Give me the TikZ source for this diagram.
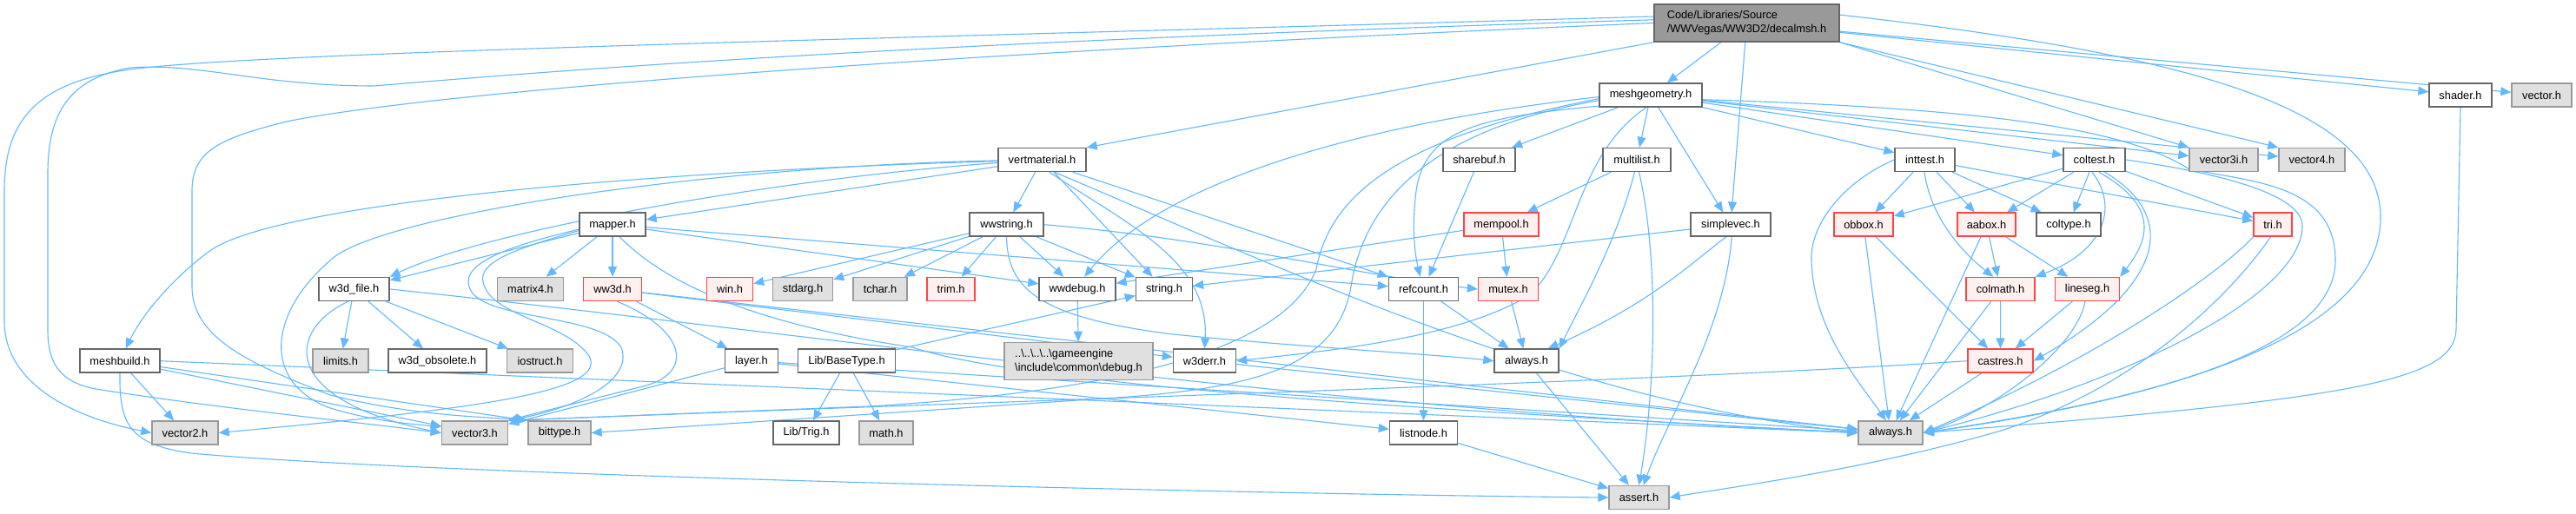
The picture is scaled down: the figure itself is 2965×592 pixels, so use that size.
\documentclass[tikz,border=0pt]{standalone}
\usepackage{fontspec}
\setmainfont{Liberation Sans}
\usetikzlibrary{arrows.meta}
\definecolor{edgec}{HTML}{63B8FF}
\definecolor{nborder}{HTML}{666666}
\definecolor{gfill}{HTML}{E0E0E0}
\definecolor{gborder}{HTML}{999999}
\definecolor{rfill}{HTML}{FFF0F0}
\definecolor{rborder}{HTML}{FF4444}
\definecolor{rootfill}{HTML}{999999}
\pgfdeclarelayer{edgelayer}
\pgfsetlayers{edgelayer,main}
\begin{document}
\begin{tikzpicture}[x=0.5pt,y=-0.5pt,
  base/.style={draw, line width=0.7pt, inner sep=0pt, minimum height=13.5pt, anchor=center, font=\fontsize{6.4pt}{8pt}\selectfont},
  wn/.style={base, draw=nborder, fill=white},
  gn/.style={base, draw=gborder, fill=gfill},
  rn/.style={base, draw=rborder, fill=rfill},
  rootn/.style={base, draw=nborder, fill=rootfill},
  e/.style={draw=edgec, line width=0.55pt, -{Triangle[length=6pt,width=5pt]}},
]
\useasboundingbox (0,0) rectangle (2965,592);

% ---------------- nodes ----------------
\node[rootn, minimum width=106.5pt, minimum height=21.5pt, align=left] (R) at (2010.5,26.5) {Code/Libraries/Source\\/WWVegas/WW3D2/decalmsh.h};
\node[wn, minimum width=59pt]   (MG)  at (1900,109.5) {meshgeometry.h};
\node[wn, minimum width=36pt]   (SH)  at (2832,109.5) {shader.h};
\node[gn, minimum width=34.5pt] (VEC) at (2925.5,109.5) {vector.h};
\node[wn, minimum width=50.5pt] (VM)  at (1199.5,184) {vertmaterial.h};
\node[wn, minimum width=41.5pt] (SB)  at (1702.5,184) {sharebuf.h};
\node[wn, minimum width=39pt]   (ML)  at (1884,184) {multilist.h};
\node[wn, minimum width=34.5pt] (IT)  at (2215.5,184) {inttest.h};
\node[wn, minimum width=35.5pt] (CT)  at (2410.5,184) {coltest.h};
\node[gn, minimum width=39.5pt] (V3I) at (2559.5,184) {vector3i.h};
\node[gn, minimum width=38pt]   (V4)  at (2661,184) {vector4.h};
\node[wn, minimum width=38pt]   (MP)  at (705,258.7) {mapper.h};
\node[wn, minimum width=42.5pt] (WS)  at (1158.5,258.7) {wwstring.h};
\node[rn, minimum width=43pt]   (MEM) at (1728,258.7) {mempool.h};
\node[wn, minimum width=46pt]   (SV)  at (1992,258.7) {simplevec.h};
\node[rn, minimum width=34pt]   (OBB) at (2145,258.7) {obbox.h};
\node[rn, minimum width=33.5pt] (AAB) at (2286.5,258.7) {aabox.h};
\node[wn, minimum width=37pt]   (COLT) at (2381,258.7) {coltype.h};
\node[rn, minimum width=22pt]   (TRI) at (2616,258.7) {tri.h};
\node[wn, minimum width=40.5pt] (WF)  at (407.5,333) {w3d\_file.h};
\node[gn, minimum width=38pt]   (MAT4) at (610.5,333) {matrix4.h};
\node[rn, minimum width=33.5pt] (WW3D) at (705,333) {ww3d.h};
\node[rn, minimum width=26.5pt] (WIN) at (840,333) {win.h};
\node[gn, minimum width=34.5pt] (STD) at (924,333) {stdarg.h};
\node[gn, minimum width=31pt]   (TCH) at (1013,333) {tchar.h};
\node[rn, minimum width=27.5pt] (TRIM) at (1094.5,333) {trim.h};
\node[wn, minimum width=44pt]   (WD)  at (1240,333) {wwdebug.h};
\node[wn, minimum width=32.5pt] (ST)  at (1340,333) {string.h};
\node[wn, minimum width=40pt]   (RC)  at (1638.5,333) {refcount.h};
\node[rn, minimum width=34.5pt] (MUT) at (1736,333) {mutex.h};
\node[rn, minimum width=39.5pt] (CM)  at (2302.5,333) {colmath.h};
\node[rn, minimum width=37pt]   (LS)  at (2402.5,333) {lineseg.h};
\node[wn, minimum width=46pt]   (MB)  at (138,415.7) {meshbuild.h};
\node[gn, minimum width=32pt]   (LIM) at (392,415.7) {limits.h};
\node[wn, minimum width=56.5pt] (W3O) at (503.5,415.7) {w3d\_obsolete.h};
\node[gn, minimum width=38pt]   (IOS) at (621.5,415.7) {iostruct.h};
\node[wn, minimum width=30.5pt] (LAY) at (865,415.7) {layer.h};
\node[wn, minimum width=56pt]   (LBT) at (974.5,415.7) {Lib/BaseType.h};
\node[gn, minimum width=85.5pt, minimum height=21.5pt, align=left] (DBG) at (1241.5,415.8) {..\textbackslash..\textbackslash..\textbackslash..\textbackslash gameengine\\\textbackslash include\textbackslash common\textbackslash debug.h};
\node[wn, minimum width=36pt]   (WE)  at (1386.5,415.7) {w3derr.h};
\node[wn, minimum width=37pt]   (AW)  at (1757,415.7) {always.h};
\node[rn, minimum width=37.5pt] (CR)  at (2302.5,415.7) {castres.h};
\node[gn, minimum width=38pt]   (V2)  at (213,498.5) {vector2.h};
\node[gn, minimum width=38pt]   (V3)  at (546.5,498.5) {vector3.h};
\node[gn, minimum width=36pt]   (BT)  at (644,498.5) {bittype.h};
\node[wn, minimum width=38pt]   (TRIG) at (928,498.5) {Lib/Trig.h};
\node[gn, minimum width=31pt]   (MATH) at (1020,498.5) {math.h};
\node[wn, minimum width=39pt]   (LN)  at (1638.5,498.5) {listnode.h};
\node[gn, minimum width=37pt]   (AG)  at (2176,498.5) {always.h};
\node[gn, minimum width=34.5pt] (ASS) at (1886.5,573) {assert.h};

% ---------------- edges ----------------
\begin{pgfonlayer}{edgelayer}
\fill[white] (0,0) rectangle (2965,592);
% root
\draw[e] (R) -- (MG);
\draw[e] (R) -- (SV);
\draw[e] (R.south west) -- (VM.north east);
\draw[e] (R) -- (SH);
\draw[e] (R) -- (VEC);
\draw[e] (R.south east) -- (V3I.north west);
\draw[e] (R.south east) -- (V4.north west);
\draw[e] (R.176) .. controls (1000,45) and (300,60) .. (150,80) .. controls (40,95) and (5,140) .. (5,220) -- (5,370) .. controls (5,440) and (80,480) .. (V2.west);
\draw[e] (R.178) .. controls (1000,50) and (600,85) .. (430,99) .. controls (300,99) and (230,72) .. (150,78) .. controls (80,90) and (55,130) .. (55,200) -- (55,380) .. controls (55,420) and (70,440) .. (110,448) .. controls (250,470) and (400,485) .. (V3.west);
\draw[e] (R.180) .. controls (1100,60) and (500,105) .. (330,140) .. controls (250,160) and (221,175) .. (221,220) -- (221,330) .. controls (221,390) and (290,420) .. (380,455) .. controls (480,480) and (560,480) .. (BT.north west);
\draw[e] (R.5) .. controls (2500,60) and (2740,120) .. (2740,250) .. controls (2740,400) and (2450,465) .. (AG.east);
% meshgeometry
\draw[e] (MG) -- (SB);
\draw[e] (MG) -- (ML);
\draw[e] (MG) -- (SV);
\draw[e] (MG) -- (IT);
\draw[e] (MG) -- (CT);
\draw[e] (MG) -- (V3I);
\draw[e] (MG) -- (V4);
\draw[e] (MG.192) .. controls (1700,135) and (1640,150) .. (1630,220) .. controls (1625,260) and (1628,290) .. (RC.105);
\draw[e] (MG.182) .. controls (1500,150) and (1320,230) .. (WD.60);
\draw[e] (MG.250) .. controls (1812,180) and (1815,290) .. (1760,340) .. controls (1680,390) and (1520,405) .. (WE.east);
\draw[e] (MG.186) .. controls (1650,148) and (1570,230) .. (1555,330) .. controls (1540,420) and (1450,445) .. (1300,457) -- (BT.east);
\draw[e] (MG.184) .. controls (1600,160) and (1530,230) .. (1515,310) .. controls (1480,400) and (1300,450) .. (1000,468) -- (V3.north east);
\draw[e] (MG.-5) .. controls (2300,125) and (2450,150) .. (2520,195) .. controls (2600,210) and (2688,215) .. (2688,300) .. controls (2688,420) and (2400,470) .. (AG.east);
% vertmaterial
\draw[e] (VM) -- (WS);
\draw[e] (VM) -- (MP);
\draw[e] (VM.184) .. controls (900,205) and (560,265) .. (WF.north east);
\draw[e] (VM.182) .. controls (800,195) and (320,230) .. (240,290) .. controls (200,320) and (165,360) .. (MB.65);
\draw[e] (VM.181) .. controls (800,192) and (430,250) .. (380,300) .. controls (310,360) and (300,440) .. (380,470) .. controls (430,485) and (470,488) .. (V3.170);
\draw[e] (VM) -- (ST);
\draw[e] (VM.-60) .. controls (1300,260) and (1392,300) .. (WE.north);
\draw[e] (VM.-45) .. controls (1500,320) and (1800,460) .. (AG.west);
\draw[e] (VM.-22) -- (RC.north west);
% mapper
\draw[e] (MP) -- (WF);
\draw[e] (MP) -- (MAT4);
\draw[e] (MP) -- (WW3D);
\draw[e] (MP) -- (RC);
\draw[e] (MP) -- (WD);
\draw[e] (MP.188) .. controls (600,280) and (530,300) .. (540,330) .. controls (550,370) and (690,360) .. (715,400) .. controls (730,440) and (660,470) .. (V3.north east);
\draw[e] (MP.190) .. controls (600,285) and (550,300) .. (556,325) .. controls (565,365) and (650,370) .. (678,410) .. controls (700,450) and (560,470) .. (V2.east);
\draw[e] (MP.-60) .. controls (760,320) and (850,370) .. (1050,400) .. controls (1200,450) and (1800,480) .. (AG.west);
% wwstring
\draw[e] (WS) -- (WIN);
\draw[e] (WS) -- (STD);
\draw[e] (WS) -- (TCH);
\draw[e] (WS) -- (TRIM);
\draw[e] (WS) -- (WD);
\draw[e] (WS) -- (ST);
\draw[e] (WS.south) .. controls (1160,330) and (1190,365) .. (1350,385) .. controls (1500,400) and (1650,408) .. (AW.west);
\draw[e] (WS.east) .. controls (1400,275) and (1550,315) .. (MUT.west);
% ww3d
\draw[e] (WW3D) -- (LAY);
\draw[e] (WW3D) -- (WE);
\draw[e] (WW3D) -- (AG);
\draw[e] (WW3D.-70) .. controls (790,380) and (800,430) .. (740,445) .. controls (680,460) and (620,475) .. (V3.north east);
% w3d_file
\draw[e] (WF) -- (LIM);
\draw[e] (WF) -- (W3O);
\draw[e] (WF) -- (IOS);
\draw[e] (WF.-115) .. controls (330,380) and (320,460) .. (V3.west);
\draw[e] (WF.east) .. controls (900,380) and (1500,470) .. (AG.west);
% layer
\draw[e] (LAY) -- (V3);
\draw[e] (LAY) -- (LN);
\draw[e] (LAY) -- (AG);
% meshbuild
\draw[e] (MB) -- (V2);
\draw[e] (MB) -- (V3);
\draw[e] (MB) -- (BT.north west);
\draw[e] (MB.east) -- (AG.west);
\draw[e] (MB.-90) .. controls (137,490) and (150,512) .. (220,522) .. controls (500,548) and (1500,570) .. (ASS.west);
% misc
\draw[e] (SB) -- (RC);
\draw[e] (ML) -- (MEM);
\draw[e] (ML.-100) .. controls (1860,280) and (1820,350) .. (AW.north east);
\draw[e] (ML.-80) .. controls (1910,300) and (1905,450) .. (ASS.north);
\draw[e] (MEM) -- (MUT);
\draw[e] (MEM) -- (WD);
\draw[e] (SV) -- (ST);
\draw[e] (SV.-110) .. controls (1950,300) and (1900,350) .. (AW.30);
\draw[e] (SV.-85) .. controls (1985,380) and (1920,480) .. (ASS.70);
\draw[e] (RC) -- (AW);
\draw[e] (RC) -- (LN);
\draw[e] (MUT) -- (AW);
\draw[e] (AW) -- (ASS);
\draw[e] (LN) -- (ASS);
\draw[e] (WD) -- (DBG);
\draw[e] (LBT) -- (TRIG);
\draw[e] (LBT) -- (MATH);
\draw[e] (LBT) -- (ST);
\draw[e] (WE) -- (AG);
% collision
\draw[e] (IT) -- (OBB);
\draw[e] (IT) -- (AAB);
\draw[e] (IT) -- (COLT);
\draw[e] (IT) -- (TRI);
\draw[e] (IT.-92) .. controls (2222,250) and (2258,290) .. (CM.120);
\draw[e] (IT.west) .. controls (2120,210) and (2083,260) .. (2085,300) .. controls (2087,380) and (2140,440) .. (AG.110);
\draw[e] (CT) -- (OBB);
\draw[e] (CT) -- (AAB);
\draw[e] (CT) -- (COLT);
\draw[e] (CT) -- (TRI);
\draw[e] (CT.-100) .. controls (2440,240) and (2420,290) .. (CM.north east);
\draw[e] (CT.-70) .. controls (2490,240) and (2470,280) .. (LS.north east);
\draw[e] (CT.-50) .. controls (2510,250) and (2490,330) .. (CR.east);
\draw[e] (CT.east) .. controls (2560,200) and (2650,225) .. (2650,260) .. controls (2650,340) and (2450,440) .. (AG.east);
\draw[e] (OBB) -- (CR);
\draw[e] (OBB) -- (AG);
\draw[e] (AAB) -- (CM);
\draw[e] (AAB) -- (LS);
\draw[e] (AAB) -- (AG);
\draw[e] (CM) -- (CR);
\draw[e] (CM) -- (AG);
\draw[e] (LS) -- (CR);
\draw[e] (LS.-100) .. controls (2390,400) and (2300,470) .. (AG.east);
\draw[e] (CR) -- (AG);
\draw[e] (CR.west) .. controls (1900,440) and (1200,460) .. (V3.north east);
\draw[e] (TRI.south west) .. controls (2550,320) and (2400,420) .. (AG.east);
\draw[e] (TRI.-100) .. controls (2560,350) and (2450,450) .. (2300,497) .. controls (2150,540) and (2000,560) .. (ASS.east);
\draw[e] (SH.south) -- (2827,380) .. controls (2825,440) and (2700,460) .. (AG.east);
\end{pgfonlayer}
\end{tikzpicture}
\end{document}
